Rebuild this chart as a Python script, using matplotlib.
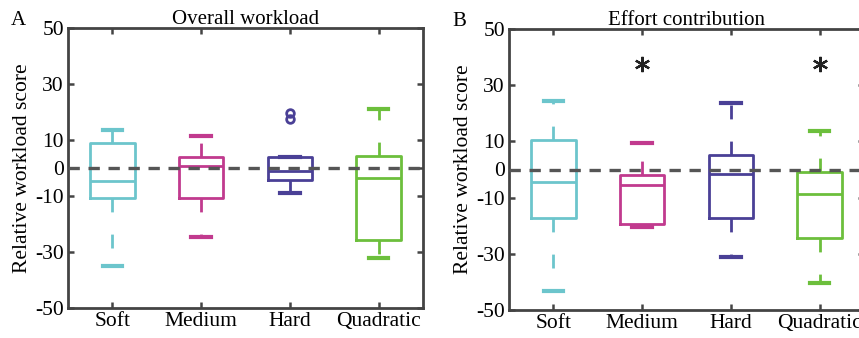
import matplotlib.pyplot as plt
import numpy as np

plt.rcParams['font.family'] = ['Liberation Serif', 'DejaVu Serif']

# -------------------------
# DATA
# -------------------------
groups = ["Soft", "Medium", "Hard", "Quadratic"]
colors = ["#6cc5cc", "#c13a8e", "#4a4096", "#6cbf3c"]

# panel A: overall workload
a_whislo = [-35.0, -24.5, -8.8, -32.3]
a_q1 = [-10.8, -10.8, -4.4, -25.7]
a_med = [-4.6, 0.6, -1.0, -3.7]
a_q3 = [8.8, 4.0, 4.0, 4.4]
a_whishi = [13.7, 11.5, 4.0, 21.2]
a_fliers = [[], [], [17.4, 19.6], []]

# panel B: effort contribution
b_whislo = [-43.2, -20.3, -31.2, -40.3]
b_q1 = [-17.3, -19.4, -17.3, -24.2]
b_med = [-4.4, -5.6, -1.5, -8.7]
b_q3 = [10.5, -2.0, 5.0, -0.9]
b_whishi = [24.5, 9.6, 23.6, 13.7]
b_fliers = [[], [], [], []]
b_signif = [2, 4]
signif_y = 37.5

yticks = [-50, -30, -10, 0, 10, 30, 50]


def make_stats(lo, q1, med, q3, hi, fl):
    return [
        {"whislo": lo[i], "q1": q1[i], "med": med[i], "q3": q3[i],
         "whishi": hi[i], "fliers": fl[i]}
        for i in range(len(groups))
    ]


def draw_panel(ax, stats, title, letter):
    for i, st in enumerate(stats):
        c = colors[i]
        ax.bxp([st], positions=[i + 1], widths=0.5, capwidths=0.22,
               boxprops=dict(color=c, linewidth=2),
               medianprops=dict(color=c, linewidth=2),
               whiskerprops=dict(color=c, linewidth=2, linestyle=(0, (5, 8))),
               capprops=dict(color=c, linewidth=3),
               flierprops=dict(marker="o", markersize=5.5, markerfacecolor="none",
                               markeredgecolor=c, markeredgewidth=2),
               manage_ticks=False)
    ax.axhline(0, color="#555555", linewidth=2.4, linestyle=(0, (3.4, 2.6)), zorder=5)
    ax.set_xlim(0.5, 4.5)
    ax.set_ylim(-50, 50)
    ax.set_xticks(range(1, 5))
    ax.set_xticklabels(groups)
    ax.set_yticks(yticks)
    ax.set_yticklabels([str(t) for t in yticks])
    ax.tick_params(direction="in", top=True, right=True, length=4, width=1.8,
                   color="#444444", labelsize=15.5, pad=3)
    for s in ax.spines.values():
        s.set_linewidth(2)
        s.set_color("#444444")
    ax.set_ylabel("Relative workload score", fontsize=15.5)
    ax.yaxis.set_label_coords(-0.1, 0.5)
    ax.set_title(title, fontsize=15, pad=3)
    ax.text(-0.16, 1.01, letter, transform=ax.transAxes, fontsize=15,
            ha="left", va="baseline")


fig = plt.figure(figsize=(8.59, 3.38), dpi=100)
ax1 = fig.add_axes([68 / 859, 30 / 338, 355 / 859, 280 / 338])
ax2 = fig.add_axes([509 / 859, 28 / 338, 355 / 859, 281 / 338])

draw_panel(ax1, make_stats(a_whislo, a_q1, a_med, a_q3, a_whishi, a_fliers),
           "Overall workload", "A")
draw_panel(ax2, make_stats(b_whislo, b_q1, b_med, b_q3, b_whishi, b_fliers),
           "Effort contribution", "B")

for p in b_signif:
    ax2.plot(p, signif_y, marker=(6, 2, 0), markersize=11, markeredgewidth=1.6,
             color="#222222", linestyle="none")

fig.savefig("out.png", dpi=100)
